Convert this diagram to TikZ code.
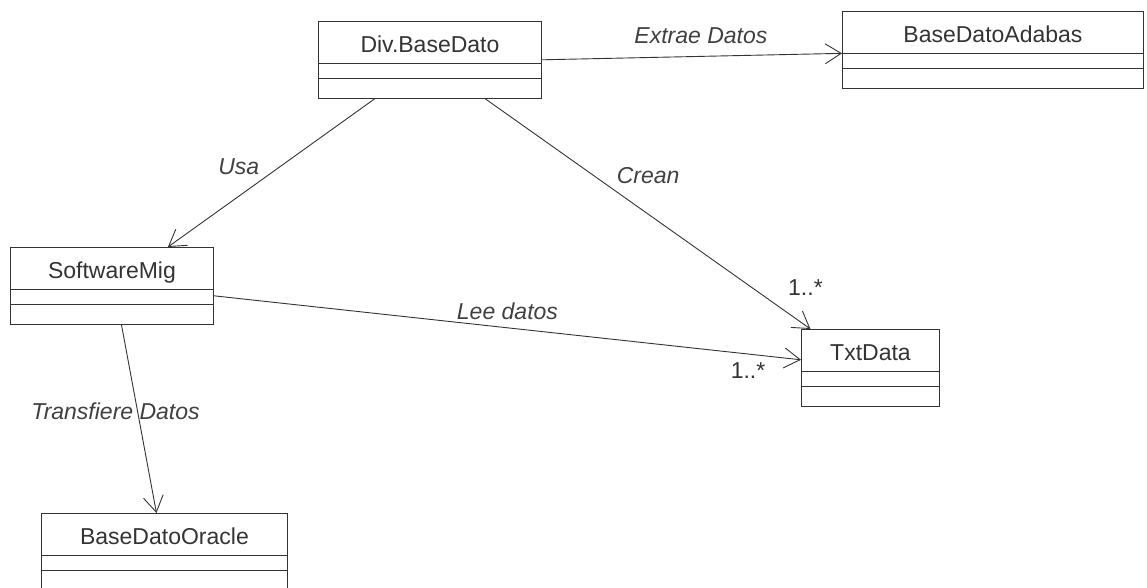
\documentclass[tikz,border=0pt]{standalone}
\usepackage{fontspec}
\setmainfont{Liberation Sans}
\usetikzlibrary{arrows.meta,positioning,shapes.multipart}

\newcommand{\umlname}[1]{\rule[-10pt]{0pt}{41pt}#1\nodepart{two}\rule{0pt}{14pt}\nodepart{three}\rule{0pt}{19pt}}

\tikzset{
    umlclass/.style={draw=black!80, line width=0.9pt, rectangle split, rectangle split parts=3,
        inner xsep=0pt, inner ysep=0pt, anchor=north west, align=center,
        text=black!80, font=\fontsize{23}{27}\selectfont},
    assoc/.style={draw=black!80, line width=0.9pt, -{Straight Barb[length=16pt,width=20pt]}},
    rolename/.style={inner sep=2pt, text=black!75, font=\fontsize{23}{27}\selectfont\itshape},
    multname/.style={inner sep=2pt, text=black!80, font=\fontsize{23}{27}\selectfont}
}

\begin{document}
\begin{tikzpicture}[x=1pt,y=-1pt]
\useasboundingbox (0,0) rectangle (1147,588);
% classes
\node[umlclass, text width=223pt] (div) at (318,21) {\umlname{Div.BaseDato}};
\node[umlclass, text width=301pt] (adabas) at (842,11) {\umlname{BaseDatoAdabas}};
\node[umlclass, text width=203pt] (soft) at (10,247) {\umlname{SoftwareMig}};
\node[umlclass, text width=138pt] (txt) at (801,329) {\umlname{TxtData}};
\node[umlclass, text width=246pt] (oracle) at (41,513) {\umlname{BaseDatoOracle}};
% associations
\draw[assoc] (div.east) -- node[rolename, pos=0.53, above=10pt] (extrae) {Extrae Datos} (adabas.text split west);
\draw[assoc] ([xshift=-55pt]div.south) -- node[rolename, pos=0.46, left=18pt] (usa) {Usa} ([xshift=56pt]soft.north);
\draw[assoc] ([xshift=55pt]div.south) -- node[rolename, pos=0.336, right=20pt] (crean) {Crean}
    node[multname, pos=1, xshift=-5pt, yshift=41pt] (multcrean) {1..*} ([xshift=-60pt]txt.north);
\draw[assoc] ([yshift=-10pt]soft.east) -- node[rolename, pos=0.5, above=6pt] (lee) {Lee datos}
    node[multname, pos=1, xshift=-53pt, yshift=-11pt] (multlee) {1..*} ([yshift=8pt]txt.west);
\draw[assoc] ([xshift=9.5pt]soft.south) -- node[rolename, pos=0.46, xshift=-22pt] (transf) {Transfiere Datos} ([xshift=-8pt]oracle.north);
\end{tikzpicture}
\end{document}
